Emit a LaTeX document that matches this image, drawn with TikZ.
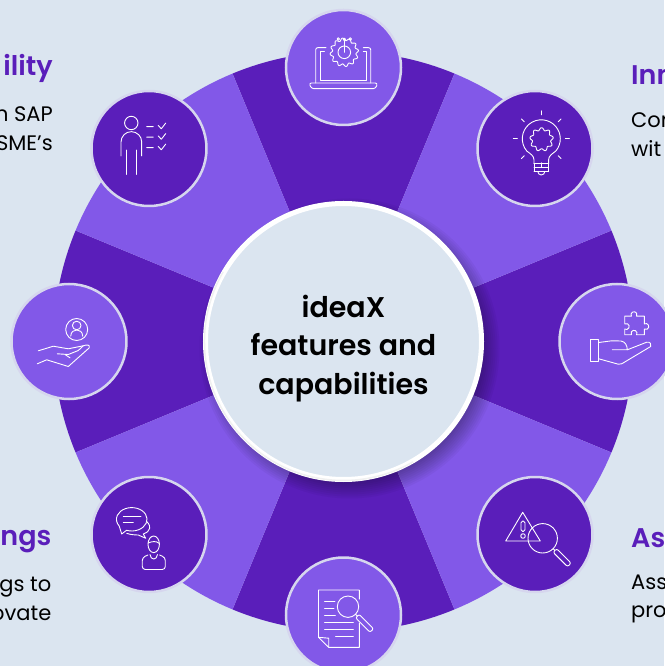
\documentclass[tikz,border=0pt]{standalone}
\usepackage{fontspec}
\setmainfont{Poppins}[BoldFont=Poppins SemiBold]
\usepackage{tikz}
\definecolor{paleblue}{HTML}{DBE5F0}
\definecolor{darkviolet}{HTML}{5A1EBA}
\definecolor{lightviolet}{HTML}{8258E8}
\definecolor{ringgrey}{HTML}{D6D6EE}
\tikzstyle{hub}=[circle,draw=white,fill=paleblue,line width=5pt,inner sep=0pt,outer sep=0pt,minimum size=276pt]
\tikzstyle{hubtext}=[inner sep=0pt,align=center,font=\fontsize{28.5}{38.5}\selectfont\bfseries]
\tikzstyle{badge}=[circle,draw=ringgrey,line width=2.5pt,inner sep=0pt,outer sep=0pt,minimum size=115pt]
\tikzstyle{icon}=[draw=white,line width=0.9pt,line join=round,line cap=round]
\tikzstyle{heading}=[inner sep=0pt,text=darkviolet,font=\fontsize{27}{30}\selectfont\bfseries]
\tikzstyle{body}=[inner sep=0pt,text=black,font=\fontsize{21}{29}\selectfont]
\newcommand{\gearicon}[4]{\draw[icon] plot[domain=0:360,samples=121] ({#1+(#3+1.3*sin(#4*\x))*cos(\x)},{#2+(#3+1.3*sin(#4*\x))*sin(\x)}) -- cycle;}
\newcommand{\lensicon}[3]{%
  \draw[icon] (#1,#2) circle (#3);
  \draw[icon] (#1,#2) ++(-45:#3) -- ++(-45:2.5);
  \draw[icon,shift={(#1,#2)},rotate=-45,rounded corners=2pt] (#3+2.5,-2.5) rectangle (#3+23,2.5);}
\begin{document}
\begin{tikzpicture}[x=1pt,y=1pt]
  \useasboundingbox[fill=paleblue] (-343.5,-324.5) rectangle (320.5,341.5);
  % wheel
  \foreach \a in {0,90,180,270}
    \fill[darkviolet] (0,0) -- (\a-22.5:290) arc[start angle=\a-22.5,end angle=\a+22.5,radius=290] -- cycle;
  \foreach \a in {45,135,225,315}
    \fill[lightviolet] (0,0) -- (\a-22.5:290) arc[start angle=\a-22.5,end angle=\a+22.5,radius=290] -- cycle;
  \foreach \r in {132,134,...,150}
    \fill[black,opacity=0.035] (6,-7) circle (\r);
  \path node[hub] (hub) {}
    (0,0) ++ (0,274) node[badge,fill=lightviolet] (laptop) {}
    (0,0) ++ (191.5,193) node[badge,fill=darkviolet] (bulb) {}
    (0,0) ++ (273.5,0) node[badge,fill=lightviolet] (puzzle) {}
    (0,0) ++ (191.5,-193) node[badge,fill=darkviolet] (alert) {}
    (0,0) ++ (0,-273.5) node[badge,fill=lightviolet] (report) {}
    (0,0) ++ (-194.5,-193) node[badge,fill=darkviolet] (chat) {}
    (0,0) ++ (-274.5,0) node[badge,fill=lightviolet] (care) {}
    (0,0) ++ (-194.5,193) node[badge,fill=darkviolet] (person) {}
    ;
  \draw[gray!12,line width=1.5pt] (hub.center) ++ (150:139) arc[start angle=150,end angle=300,radius=139];
  \node[hubtext] (hubtext) at (0,-7) {ideaX\\features and\\capabilities};
  % side texts
  \node[heading,anchor=base east] (titleA) at (-290.5,265.5) {ility};
  \node[body,anchor=base east] (textAa) at (-290.5,219.5) {n SAP};
  \node[body,anchor=base east] (textAb) at (-290.5,190.5) {SME’s};
  \node[heading,anchor=base west] (titleB) at (287.5,256.5) {Inn};
  \node[body,anchor=base west] (textBa) at (287.5,213.8) {Con};
  \node[body,anchor=base west] (textBb) at (287.5,184.8) {wit};
  \node[heading,anchor=base west] (titleC) at (287.5,-205.5) {As};
  \node[body,anchor=base west] (textCa) at (287.5,-247.5) {Ass};
  \node[body,anchor=base west] (textCb) at (287.5,-276.2) {pro};
  \node[heading,anchor=base east] (titleD) at (-292,-203.5) {ngs};
  \node[body,anchor=base east] (textDa) at (-292,-250) {gs to};
  \node[body,anchor=base east] (textDb) at (-292,-278.5) {ovate};
  % laptop
  \begin{scope}[shift={(laptop)}]
    \draw[icon,rounded corners=2pt] (-17.5,19.8) -- (-27.8,19.8) -- (-27.8,-15.5);
    \draw[icon,rounded corners=2pt] (19.8,19.8) -- (27.2,19.8) -- (27.2,-15.5);
    \draw[icon] (-19,15.8) -- (-23.5,15.8) -- (-23.5,-12.5) -- (23.2,-12.5) -- (23.2,15.8) -- (19.8,15.8);
    \draw[icon,rounded corners=2.5pt] (-34.5,-15.5) -- (34.2,-15.5) -- (32,-21.2) -- (-32,-21.2) -- cycle;
    \gearicon{0.8}{15.2}{13}{12}
    \draw[icon] (0.8,15.2) circle (6.3);
    \draw[icon] (0.8,15.2) -- (0.8,27);
    \draw[icon] (0.8,28.2) circle (1.2) (-5.2,28.5) circle (1.2) (6.8,28.5) circle (1.2);
  \end{scope}
  % bulb
  \begin{scope}[shift={(bulb)}]
    \begin{scope}[shift={(6.3,9.7)}]
      \draw[icon] (-7.3,-25) -- (-7.3,-21) .. controls (-7.3,-17) and (-11,-15) .. (220:19) arc[start angle=220,end angle=-40,radius=19] .. controls (11,-15) and (7.3,-17) .. (7.3,-21) -- (7.3,-25);
      \draw[icon] (-7.3,-25) -- (7.3,-25) (-7.3,-29) -- (7.3,-29) (-7.3,-32.7) -- (7.3,-32.7) (-7.3,-25) -- (-7.3,-32.7) (7.3,-25) -- (7.3,-32.7);
      \draw[icon] (-3.5,-32.7) arc[start angle=180,end angle=360,radius=3.5];
      \foreach \a in {0,45,...,315}
        \draw[icon] (\a:24) -- (\a:28);
      \gearicon{0.3}{-0.7}{10.5}{9}
    \end{scope}
  \end{scope}
  % hand and puzzle
  \begin{scope}[shift={(puzzle)}]
    \draw[icon] (-27,1.7) rectangle (-18.3,-20);
    \draw[icon] (-18.3,-1) -- (-5.3,0.7) -- (4,0.5) .. controls (8,0) and (10.3,-4) .. (10.3,-8.3) -- (-4.7,-8.3);
    \draw[icon] (10.3,-8.3) -- (29.7,-0.7) .. controls (33,0) and (35,-3) .. (33.7,-5) -- (4.7,-22.3) .. controls (3.5,-23) and (2.5,-23) .. (1.3,-22.7) -- (-18.3,-17.3);
    \draw[icon] (7.7,25.3) -- (14.4,25.3) arc[start angle=210,end angle=-30,radius=3] -- (27.3,25.3) -- (27.3,17.6) arc[start angle=120,end angle=-120,radius=3] -- (27.3,6.7) -- (19.6,6.7) arc[start angle=-30,end angle=210,radius=3] -- (7.7,6.7) -- (7.7,12.4) arc[start angle=-120,end angle=120,radius=3] -- cycle;
  \end{scope}
  % warning and lens
  \begin{scope}[shift={(alert)}]
    \draw[icon] (-12.3,22.2) -- (-29.3,-6.5) -- (5.3,-6.5) -- cycle;
    \draw[icon,rounded corners=1.8pt] (-14,13.5) rectangle (-10,3);
    \draw[icon] (-12,-1.5) circle (2.3);
    \lensicon{7.7}{-3.8}{14.7}
  \end{scope}
  % report
  \begin{scope}[shift={(report)}]
    \draw[icon] (15.8,15.8) -- (15.8,25) -- (-25,25) -- (-25,-22.3) -- (-14.8,-32.3) -- (15.8,-32.3) -- (15.8,-8);
    \draw[icon] (-25,-22.3) -- (-14.8,-23.2) -- (-14.8,-32.3);
    \draw[icon] (-19,14) -- (-8.5,14) (-19,7) -- (-9.5,7) (-19,0) -- (-8.2,0) (-19,-7) -- (9.8,-7) (-19,-14.3) -- (9.8,-14.3) (-8,-21.7) -- (9.8,-21.7);
    \lensicon{4.5}{8.3}{10.7}
  \end{scope}
  % chat
  \begin{scope}[shift={(chat)}]
    \draw[icon] (-22.5,4.2) arc[start angle=250,end angle=575,x radius=15.3,y radius=11.7] -- (-27.3,0.5) -- cycle;
    \draw[icon] (-2,12.8) .. controls (0.5,10) and (1,8) .. (0.7,6.2) .. controls (0.2,3.5) and (-2,2) .. (-5.7,0.5) -- (-3.3,-3.8) -- (-10.7,-0.5) .. controls (-15,-0.5) and (-19,0) .. (-22.3,1.2);
    \draw[icon] (-25.7,17.8) -- (-8,17.8) (-25.7,12.5) -- (-15.7,12.5);
    \draw[icon] (4.7,-9.8) ellipse (5.7 and 8.3);
    \draw[icon] (-1,-8.5) .. controls (3,-7) and (7,-6) .. (10.4,-9);
    \draw[icon,rounded corners=3pt] (-1,-20.5) -- (-6.7,-23) -- (-6.7,-35) -- (16.3,-35) -- (16.3,-23) -- (10.5,-20.5);
    \draw[icon] (1,-20) .. controls (1.5,-26) and (8,-26) .. (8.5,-20);
  \end{scope}
  % care
  \begin{scope}[shift={(care)}]
    \draw[icon] (7.7,12) circle (11);
    \draw[icon] (7.7,16) circle (4.3);
    \draw[icon] (1.7,5.3) .. controls (2,10) and (5,11.5) .. (7.7,11.5) .. controls (10.5,11.5) and (13.5,10) .. (13.7,5.3);
    \draw[icon] (-30.7,-9.3) -- (-15.7,-4.7) -- (-0.7,-7.3) -- (14.3,-4.3) .. controls (18,-3) and (21,-3) .. (20.3,-6.3) -- (-0.7,-25) -- (-22.3,-18.3) -- (-31.7,-22.3);
    \draw[icon] (-11.7,-12.3) -- (-0.7,-13) -- (9.3,-9) -- (14.3,-4.3);
    \draw[icon] (-4,-13) -- (1,-16.3);
  \end{scope}
  % person and checklist
  \begin{scope}[shift={(person)}]
    \draw[icon] (-17.7,25.5) circle (6.7);
    \draw[icon] (-28,-7.5) -- (-28,6.5) arc[start angle=180,end angle=0,radius=10.35] -- (-7.3,-7.5);
    \draw[icon] (-22.7,-26) -- (-22.7,-1.5) (-12.7,-26) -- (-12.7,-1.5);
    \foreach \y in {0,10.5,21}
      \draw[icon] (-2.3,0.8+\y) -- (4.3,0.8+\y) (9.3,2+\y) -- (12.3,-1.3+\y) -- (16.7,4.4+\y);
  \end{scope}
\end{tikzpicture}
\end{document}
